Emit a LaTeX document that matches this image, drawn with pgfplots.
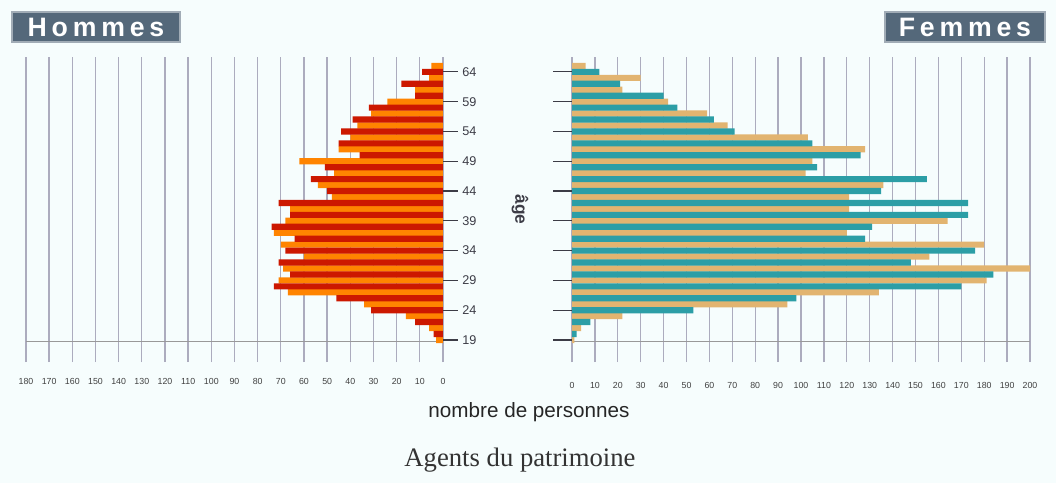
\documentclass[border=0pt]{standalone}
\usepackage{fontspec}
\setmainfont{Liberation Sans}
\newfontfamily\seriffont{Liberation Serif}
\usepackage{pgfplots}
\pgfplotsset{compat=1.18}
\definecolor{bg}{RGB}{246,253,253}
\definecolor{mred}{RGB}{204,24,0}
\definecolor{morange}{RGB}{255,132,0}
\definecolor{fteal}{RGB}{44,158,166}
\definecolor{ftan}{RGB}{226,180,112}
\definecolor{gridc}{RGB}{172,172,190}
\definecolor{boxc}{RGB}{84,104,122}
\definecolor{lbl}{RGB}{60,60,70}

\begin{document}
\begin{tikzpicture}[x=1pt,y=1pt]
\fill[bg] (0,0) rectangle (792,362.25);
\path[use as bounding box] (0,0) rectangle (792,362.25);

\pgfplotsset{pyr/.style={
  scale only axis, height=228.75pt, ymin=15.3, ymax=66.5,
  axis line style={draw=none},
  xmajorgrids, major grid style={gridc, line width=1pt},
  ytick={19,24,...,64},
  tick align=outside,
  y tick style={lbl, line width=0.9pt},
  major tick length=11pt,
  x tick style={draw=none},
  xticklabel style={font=\fontsize{6.6}{7}\selectfont, text=black!75, yshift=2pt},
  /pgf/number format/assume math mode=true,
  extra y ticks={18.7}, extra y tick labels={},
  extra y tick style={grid=major, major grid style={gray!80, line width=0.8pt}, tick style={draw=none}},
}}

% Hommes
\begin{axis}[pyr, at={(19.5pt,90.75pt)}, anchor=south west, width=312.75pt,
  x dir=reverse, xmin=0, xmax=180, xtick={0,10,...,180},
  ytick pos=right, yticklabel pos=right,
  yticklabel style={font=\fontsize{9.5}{10}\selectfont, text=lbl}]
\addplot[xbar, bar width=1.04, bar shift=0pt, fill=morange, draw=none] coordinates {
(3,19) (6,21) (16,23) (34,25) (67,27) (71,29) (69,31) (60,33) (70,35) (73,37)
(68,39) (66,41) (48,43) (54,45) (47,47) (62,49) (45,51) (40,53) (37,55) (31,57)
(24,59) (12,61) (6,63) (5,65)};
\addplot[xbar, bar width=1.04, bar shift=0pt, fill=mred, draw=none] coordinates {
(4,20) (12,22) (31,24) (46,26) (73,28) (66,30) (71,32) (68,34) (64,36) (74,38)
(66,40) (71,42) (50,44) (57,46) (51,48) (36,50) (45,52) (44,54) (39,56) (32,58)
(12,60) (18,62) (9,64)};
\end{axis}

% Femmes
\begin{axis}[pyr, at={(429pt,90.75pt)}, anchor=south west, width=343.5pt,
  xmin=0, xmax=200, xtick={0,10,...,200},
  ytick pos=left, yticklabels={}, major tick length=14pt]
\addplot[xbar, bar width=1.04, bar shift=0pt, fill=ftan, draw=none] coordinates {
(1,19) (4,21) (22,23) (94,25) (134,27) (181,29) (200,31) (156,33) (180,35) (120,37)
(164,39) (121,41) (121,43) (136,45) (102,47) (105,49) (128,51) (103,53) (68,55) (59,57)
(42,59) (22,61) (30,63) (6,65)};
\addplot[xbar, bar width=1.04, bar shift=0pt, fill=fteal, draw=none] coordinates {
(2,20) (8,22) (53,24) (98,26) (170,28) (184,30) (148,32) (176,34) (128,36) (131,38)
(173,40) (173,42) (135,44) (155,46) (107,48) (126,50) (105,52) (71,54) (62,56) (46,58)
(40,60) (21,62) (12,64)};
\end{axis}

\node[fill=boxc, draw=boxc!55!white, line width=1pt, minimum width=126pt, minimum height=22.5pt,
  text=white, inner sep=0pt, font=\bfseries\fontsize{20}{20}\selectfont\addfontfeatures{LetterSpace=18}] at (72,342) {Hommes};
\node[fill=boxc, draw=boxc!55!white, line width=1pt, minimum width=120pt, minimum height=22.5pt,
  text=white, inner sep=0pt, font=\bfseries\fontsize{20}{20}\selectfont\addfontfeatures{LetterSpace=18}] at (723.75,342) {Femmes};

\node[rotate=-90, font=\bfseries\fontsize{13}{13}\selectfont, text=lbl] at (390,205) {âge};
\node[font=\fontsize{15.5}{16}\selectfont, text=black!85] at (396.75,53.25) {nombre de personnes};
\node[font=\seriffont\fontsize{20}{20}\selectfont, text=black!80] at (390,17.25) {Agents du patrimoine};
\end{tikzpicture}
\end{document}
